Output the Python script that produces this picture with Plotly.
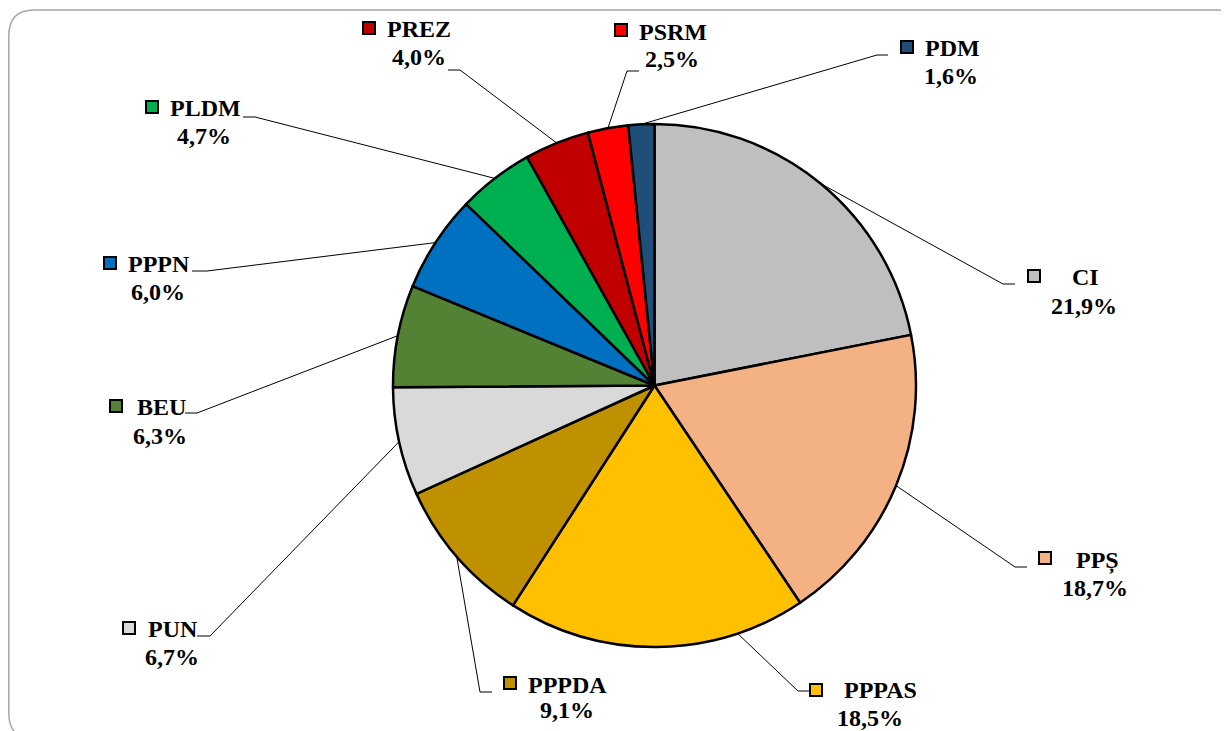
import math
import plotly.graph_objects as go

# ---- data ----
parties = ["CI", "PPȘ", "PPPAS", "PPPDA", "PUN", "BEU", "PPPN", "PLDM", "PREZ", "PSRM", "PDM"]
shares = [21.9, 18.7, 18.5, 9.1, 6.7, 6.3, 6.0, 4.7, 4.0, 2.5, 1.6]
colors = ["#BFBFBF", "#F4B183", "#FFC000", "#BF9000", "#D9D9D9", "#548235",
          "#0070C0", "#00B050", "#C00000", "#FF0000", "#1F4E79"]

# ---- layout (pixel positions of labels, in window pixels) ----
WIN_W, WIN_H = 1229, 731
OFF = 8  # default page body margin
W, H = WIN_W - OFF, WIN_H - OFF
CX, CY, R = 654.5, 385.5, 261.5
square_pos = [(1034, 276), (1045, 558), (816, 690), (510, 683), (129, 628), (116, 406),
              (110, 263), (152, 107), (369, 28), (621, 30), (907, 47)]
name_pos = [(1085, 277), (1097, 560), (880, 690), (567, 685), (173, 629), (161, 407),
            (159, 264), (205, 108), (419, 29), (673, 32), (952, 48)]
pct_pos = [(1084, 306), (1095, 588), (870, 718), (567, 710), (172, 657), (160, 436),
           (158, 292), (204, 136), (419, 57), (672, 59), (951, 76)]
elbow_pos = [(1003, 284), (1015, 567), (798, 691), (480, 692), (210, 636), (197, 413),
             (207, 271), (255, 117), (460, 70), (627, 71), (877, 55)]
end_pos = [(1015, 284), (1027, 567), (809, 691), (492, 692), (197, 636), (185, 413),
           (192, 271), (243, 117), (448, 70), (639, 71), (888, 55)]
# where along each slice's arc the leader line attaches (0 = start, 1 = end)
attach_frac = [0.5, 0.5, 0.23, 0.5, 0.5, 0.5, 0.5, 0.5, 0.5, 0.5, 0.5]

FONT = dict(family="Liberation Serif, Times New Roman, serif", size=24, color="black")

fig = go.Figure()

fig.add_trace(go.Pie(
    labels=parties, values=shares, sort=False, direction="clockwise", rotation=0,
    marker=dict(colors=colors, line=dict(color="black", width=2.5)),
    textinfo="none", hoverinfo="label+percent", showlegend=False,
    domain=dict(x=[(CX - R - OFF) / W, (CX + R - OFF) / W],
                y=[(WIN_H - CY - R) / H, (WIN_H - CY + R) / H]),
))

# invisible overlay axis in window-pixel coordinates
fig.add_trace(go.Scatter(x=[OFF, WIN_W], y=[OFF, WIN_H], mode="markers", marker=dict(opacity=0),
                         hoverinfo="skip", showlegend=False))

shapes = []
# rounded frame
shapes.append(dict(type="path", xref="x", yref="y", layer="below",
                   path="M 8.8,36 Q 8.8,10 34,10 L 1217,10 Q 1243,10 1243,36 L 1243,713 "
                        "Q 1243,739 1217,739 L 34,739 Q 8.8,739 8.8,713 Z",
                   line=dict(color="#A6A6A6", width=1.5), fillcolor="rgba(0,0,0,0)"))

annotations = []
total = sum(shares)
cum = 0.0
for i, (p, v) in enumerate(zip(parties, shares)):
    theta = 2 * math.pi * (cum + v * attach_frac[i]) / total
    cum += v
    sx = CX + R * math.sin(theta)
    sy = CY - R * math.cos(theta)
    ex, ey = elbow_pos[i]
    tx, ty = end_pos[i]
    shapes.append(dict(type="path", xref="x", yref="y", layer="above",
                       path=f"M {sx:.1f},{sy:.1f} L {ex},{ey} L {tx},{ty}",
                       line=dict(color="black", width=1)))
    qx, qy = square_pos[i]
    shapes.append(dict(type="rect", xref="x", yref="y", layer="above",
                       x0=qx - 6, x1=qx + 6, y0=qy - 6, y1=qy + 6,
                       fillcolor=colors[i], line=dict(color="black", width=2)))
    nx, ny = name_pos[i]
    annotations.append(dict(x=nx, y=ny, xref="x", yref="y", text=f"<b>{p}</b>",
                            showarrow=False, font=FONT, xanchor="center", yanchor="middle"))
    px_, py_ = pct_pos[i]
    label = f"{v:.1f}".replace(".", ",") + "%"
    annotations.append(dict(x=px_, y=py_, xref="x", yref="y", text=f"<b>{label}</b>",
                            showarrow=False, font=FONT, xanchor="center", yanchor="middle"))

fig.update_layout(
    width=W, height=H, margin=dict(l=0, r=0, t=0, b=0),
    paper_bgcolor="white", plot_bgcolor="white",
    xaxis=dict(range=[OFF, WIN_W], visible=False, fixedrange=True),
    yaxis=dict(range=[WIN_H, OFF], visible=False, fixedrange=True),
    shapes=shapes, annotations=annotations, showlegend=False,
)

fig.write_html("out.html")
